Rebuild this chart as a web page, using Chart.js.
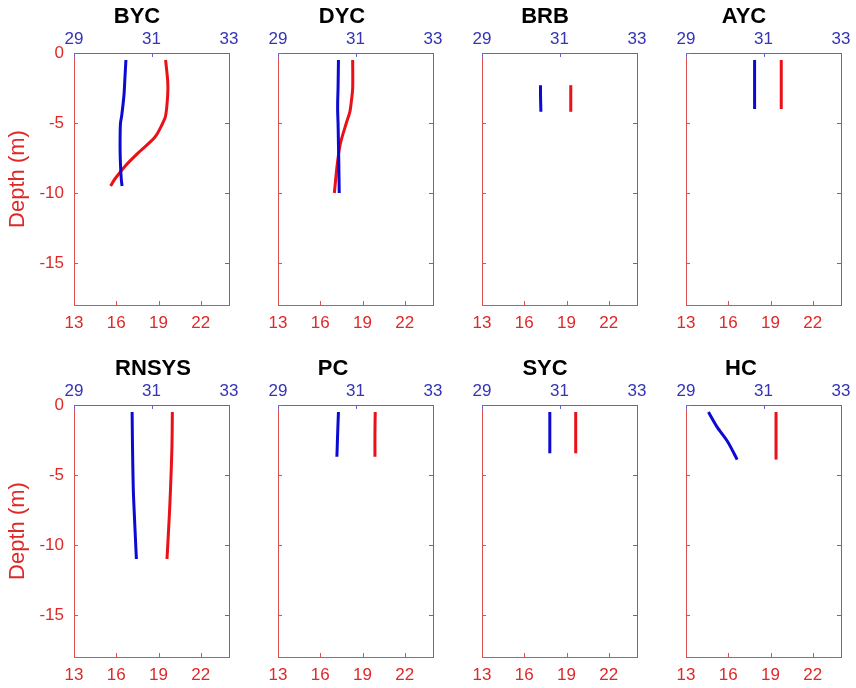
<!DOCTYPE html>
<html>
<head>
<meta charset="utf-8">
<script src="https://cdn.jsdelivr.net/npm/chart.js@4.4.0/dist/chart.umd.min.js"></script>
<style>
body{margin:0;background:#fff;width:856px;height:688px;overflow:hidden;position:relative;}
canvas{position:absolute;}
</style>
</head>
<body>
<script>
// stations, one panel each
const stations = ['BYC', 'DYC', 'BRB', 'AYC', 'RNSYS', 'PC', 'SYC', 'HC'];

// tick labels
const tempTicks = [13, 16, 19, 22];
const salTicks = [29, 31, 33];
const depthTicks = [0, -5, -10, -15];

// profiles: depth (m), temperature (bottom axis), salinity (top axis)
const bycDepth = [-0.5, -2, -3, -4.5, -5, -6, -7, -8, -9, -9.5];
const bycTemp = [19.5, 19.65, 19.65, 19.5, 19.3, 18.75, 17.7, 16.7, 15.9, 15.6];
const bycSal = [30.34, 30.31, 30.29, 30.23, 30.2, 30.19, 30.19, 30.2, 30.22, 30.24];

const dycDepth = [-0.5, -2.5, -3.5, -4.2, -5, -6.5, -8, -10];
const dycTemp = [18.3, 18.3, 18.2, 18.1, 17.85, 17.42, 17.2, 17.0];
const dycSal = [30.56, 30.55, 30.54, 30.54, 30.55, 30.56, 30.57, 30.58];

const brbDepth = [-2.3, -3, -4.2];
const brbTemp = [19.3, 19.3, 19.3];
const brbSal = [30.51, 30.51, 30.52];

const aycDepth = [-0.5, -2, -4];
const aycTemp = [19.76, 19.76, 19.76];
const aycSal = [30.77, 30.77, 30.77];

const rnsysDepth = [-0.5, -3, -6, -8, -11];
const rnsysTemp = [19.98, 19.95, 19.85, 19.76, 19.6];
const rnsysSal = [30.5, 30.51, 30.53, 30.56, 30.61];

const pcDepth = [-0.5, -2, -3.7];
const pcTemp = [19.9, 19.88, 19.88];
const pcSal = [30.56, 30.54, 30.52];

const sycDepth = [-0.5, -2, -3.45];
const sycTemp = [19.65, 19.65, 19.65];
const sycSal = [30.75, 30.75, 30.75];

const hcDepth = [-0.5, -1.56, -2.64, -3.9];
const hcTemp = [19.39, 19.39, 19.39, 19.39];
const hcSal = [29.58, 29.8, 30.08, 30.32];

const profiles = [
    [bycDepth, bycTemp, bycSal],
    [dycDepth, dycTemp, dycSal],
    [brbDepth, brbTemp, brbSal],
    [aycDepth, aycTemp, aycSal],
    [rnsysDepth, rnsysTemp, rnsysSal],
    [pcDepth, pcTemp, pcSal],
    [sycDepth, sycTemp, sycSal],
    [hcDepth, hcTemp, hcSal]
];

// layout
const plotW = 155, plotH = 252;
const padL = 74, padT = 53, padR = 20, padB = 30;
const colLeft = [74, 278, 482, 686];
const rowTop = [53, 405];
const titleShift = [63, 64, 63, 58, 79, 55, 63, 55];

const redLine = '#ea1018', blueLine = '#0a0ad2';
const redAxis = '#dc5050', blueAxis = '#6464c8';
const redText = '#e02828', blueText = '#3434b4';
const fontFam = '"Liberation Sans", Arial, sans-serif';

const insideTicks = {
    id: 'insideTicks',
    afterDraw(chart){
        const ctx = chart.ctx, a = chart.chartArea, s = chart.scales;
        const len = 4;
        ctx.save();
        ctx.lineWidth = 1;
        depthTicks.forEach(v => {
            let y = Math.round(s.y.getPixelForValue(v)) + 0.5;
            ctx.strokeStyle = redAxis;
            ctx.beginPath(); ctx.moveTo(a.left, y); ctx.lineTo(a.left + len, y); ctx.stroke();
            ctx.strokeStyle = blueAxis;
            ctx.beginPath(); ctx.moveTo(a.right, y); ctx.lineTo(a.right - len, y); ctx.stroke();
        });
        tempTicks.forEach(v => {
            let x = Math.round(s.x.getPixelForValue(v)) + 0.5;
            ctx.strokeStyle = redAxis;
            ctx.beginPath(); ctx.moveTo(x, a.bottom); ctx.lineTo(x, a.bottom - len); ctx.stroke();
        });
        salTicks.forEach(v => {
            let x = Math.round(s.x2.getPixelForValue(v)) + 0.5;
            ctx.strokeStyle = blueAxis;
            ctx.beginPath(); ctx.moveTo(x, a.top); ctx.lineTo(x, a.top + len); ctx.stroke();
        });
        // panel title
        const shift = chart.options.plugins.insideTicks.shift;
        ctx.fillStyle = '#000';
        ctx.font = 'bold 22px ' + fontFam;
        ctx.textAlign = 'center';
        ctx.textBaseline = 'middle';
        ctx.fillText(chart.options.plugins.insideTicks.text, a.left + shift, a.top - 36);
        ctx.restore();
    }
};

stations.forEach((name, i) => {
    const col = i % 4, row = Math.floor(i / 4);
    const cv = document.createElement('canvas');
    cv.width = padL + plotW + padR;
    cv.height = padT + plotH + padB;
    cv.style.left = (colLeft[col] - padL) + 'px';
    cv.style.top = (rowTop[row] - padT) + 'px';
    document.body.appendChild(cv);

    const depth = profiles[i][0], temp = profiles[i][1], sal = profiles[i][2];
    const firstCol = col === 0;

    new Chart(cv.getContext('2d'), {
        type: 'scatter',
        data: {
            datasets: [{
                label: 'Salinity',
                data: sal.map((v, k) => ({x: v, y: depth[k]})),
                xAxisID: 'x2',
                yAxisID: 'y',
                showLine: true,
                borderColor: blueLine,
                borderWidth: 3,
                pointRadius: 0,
                tension: 0.3
            }, {
                label: 'Temperature',
                data: temp.map((v, k) => ({x: v, y: depth[k]})),
                xAxisID: 'x',
                yAxisID: 'y',
                showLine: true,
                borderColor: redLine,
                borderWidth: 3,
                pointRadius: 0,
                tension: 0.3
            }]
        },
        options: {
            responsive: false,
            animation: false,
            events: [],
            layout: {padding: 0},
            plugins: {
                legend: {display: false},
                tooltip: {enabled: false},
                title: {display: false},
                insideTicks: {text: name, shift: titleShift[i]}
            },
            scales: {
                x: {
                    type: 'linear', position: 'bottom', min: 13, max: 24,
                    grid: {display: false, drawTicks: false},
                    border: {color: redAxis, width: 1},
                    ticks: {color: redText, padding: 8, font: {family: fontFam, size: 17}},
                    afterBuildTicks: s => { s.ticks = tempTicks.map(v => ({value: v})); },
                    afterFit: s => { s.height = padB; }
                },
                x2: {
                    type: 'linear', position: 'top', min: 29, max: 33,
                    grid: {display: false, drawTicks: false},
                    border: {color: blueAxis, width: 1},
                    ticks: {color: blueText, padding: 3, font: {family: fontFam, size: 17}},
                    afterBuildTicks: s => { s.ticks = salTicks.map(v => ({value: v})); },
                    afterFit: s => { s.height = padT; }
                },
                y: {
                    type: 'linear', position: 'left', min: -18, max: 0,
                    grid: {display: false, drawTicks: false},
                    border: {color: redAxis, width: 1},
                    ticks: {display: firstCol, color: redText, padding: 10, font: {family: fontFam, size: 17}},
                    title: {
                        display: firstCol, text: 'Depth (m)', color: redText,
                        padding: {top: 5, bottom: 0},
                        font: {family: fontFam, size: 22}
                    },
                    afterBuildTicks: s => { s.ticks = depthTicks.map(v => ({value: v})); },
                    afterFit: s => { s.width = padL; }
                },
                y2: {
                    type: 'linear', position: 'right', min: -18, max: 0,
                    grid: {display: false, drawTicks: false},
                    border: {color: blueAxis, width: 1},
                    ticks: {display: false},
                    afterFit: s => { s.width = padR; }
                }
            }
        },
        plugins: [insideTicks]
    });
});
</script>
</body>
</html>
